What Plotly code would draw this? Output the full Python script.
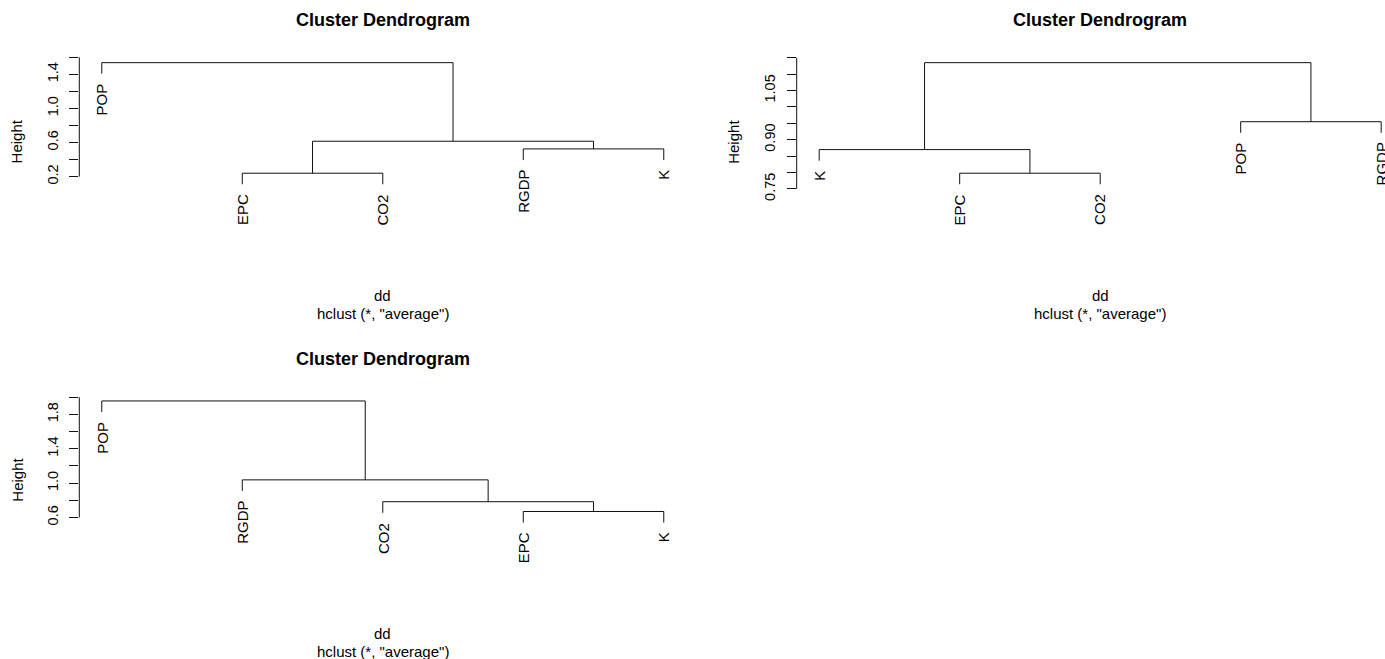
import plotly.graph_objects as go

W, H = 1385, 659

# ---- hclust results ("average" linkage), one entry per dendrogram ----
# merges: a member is either a leaf name or the index of an earlier merge
labels_a = ["POP", "EPC", "CO2", "RGDP", "K"]
merges_a = [("EPC", "CO2"), ("RGDP", "K"), (0, 1), ("POP", 2)]
heights_a = [0.240, 0.525, 0.615, 1.537]
yticks_a = [0.2, 0.4, 0.6, 0.8, 1.0, 1.2, 1.4, 1.6]
ytext_a = ["0.2", "", "0.6", "", "1.0", "", "1.4", ""]

labels_b = ["K", "EPC", "CO2", "POP", "RGDP"]
merges_b = [("EPC", "CO2"), ("K", 0), ("POP", "RGDP"), (1, 2)]
heights_b = [0.798, 0.870, 0.955, 1.135]
yticks_b = [0.75, 0.80, 0.85, 0.90, 0.95, 1.00, 1.05, 1.10, 1.15]
ytext_b = ["0.75", "", "", "0.90", "", "", "1.05", "", ""]

labels_c = ["POP", "RGDP", "CO2", "EPC", "K"]
merges_c = [("EPC", "K"), ("CO2", 0), ("RGDP", 1), ("POP", 2)]
heights_c = [0.670, 0.784, 1.038, 1.956]
yticks_c = [0.6, 0.8, 1.0, 1.2, 1.4, 1.6, 1.8, 2.0]
ytext_c = ["0.6", "", "1.0", "", "1.4", "", "1.8", ""]

title_text = "Cluster Dendrogram"
xlab_text = "dd"
sub_text = 'hclust (*, "average")'
ylab_text = "Height"

# ---- page layout (pixels) ----
FONT = "Liberation Sans, Arial, sans-serif"
TEXT_SIZE = 15
TICK_SIZE = 14.5
TITLE_SIZE = 18
LEAF_STEP = 140.5          # pixels between neighbouring leaves
X_PAD = 0.16               # R-style 4% axis extension on 1..n
COL_LEFT = [79.3, 796.7]
ROW_TOP = [50.5, 388.8]
SPAN_PX = 121.6            # pixels from top merge down to lowest leaf end
TOP_PAD, BOTTOM_PAD = 0.10, 0.40
HANG = 0.1

panels = [
    (labels_a, merges_a, heights_a, yticks_a, ytext_a, 0, 0),
    (labels_b, merges_b, heights_b, yticks_b, ytext_b, 1, 0),
    (labels_c, merges_c, heights_c, yticks_c, ytext_c, 0, 1),
]

fig = go.Figure()
annotations = []
shapes = []
layout = {}


def px_x(v):
    return v / W


def px_y(v):
    return 1 - v / H


for k, (labels, merges, heights, yticks, ytext, col, row) in enumerate(panels):
    sfx = "" if k == 0 else str(k + 1)
    xa, ya = "x" + sfx, "y" + sfx
    n = len(labels)

    hang = HANG * (max(heights) - min(heights))
    leaf_x = {name: i + 1 for i, name in enumerate(labels)}

    # node positions (x, y) of each merge
    node = []
    xs, ys = [], []
    leaf_end = {}
    for (m1, m2), h in zip(merges, heights):
        pts = []
        for m in (m1, m2):
            if isinstance(m, str):
                px_, py_ = leaf_x[m], h - hang
                leaf_end[m] = py_
            else:
                px_, py_ = node[m]
            pts.append((px_, py_))
        (x1, y1), (x2, y2) = pts
        xs += [x1, x1, x2, x2, None]
        ys += [y1, h, h, y2, None]
        node.append(((x1 + x2) / 2, h))

    fig.add_trace(go.Scatter(
        x=xs, y=ys, mode="lines", xaxis=xa, yaxis=ya,
        line=dict(color="#111111", width=1),
        hoverinfo="skip", showlegend=False, cliponaxis=False,
    ))

    # leaf labels hanging below each leaf
    for name in labels:
        annotations.append(dict(
            x=leaf_x[name], y=leaf_end[name], xref=xa, yref=ya,
            text=name, textangle=-90, showarrow=False,
            xanchor="center", yanchor="top", yshift=-8,
            font=dict(family=FONT, size=TEXT_SIZE, color="#000000"),
        ))

    # axes geometry
    full_w = (n - 1 + 2 * X_PAD) * LEAF_STEP
    x0px = COL_LEFT[col]
    x1px = min(x0px + full_w, W)
    xr = [1 - X_PAD, 1 - X_PAD + (x1px - x0px) / LEAF_STEP]

    low = min(heights) - hang
    span = max(heights) - low
    yr = [low - BOTTOM_PAD * span, max(heights) + TOP_PAD * span]
    top_px = ROW_TOP[row]
    bot_px = top_px + SPAN_PX * (1 + TOP_PAD + BOTTOM_PAD)

    layout["xaxis" + sfx] = dict(
        domain=[px_x(x0px), px_x(x1px)], range=xr, anchor=ya,
        showgrid=False, zeroline=False, showline=False,
        showticklabels=False, ticks="", fixedrange=True,
    )
    layout["yaxis" + sfx] = dict(
        domain=[px_y(bot_px), px_y(top_px)], range=yr, anchor=xa,
        showgrid=False, zeroline=False, showline=False,
        ticks="outside", ticklen=9, tickwidth=1, tickcolor="#111111",
        tickvals=yticks, ticktext=ytext, tickangle=-90,
        ticklabelstandoff=6,
        tickfont=dict(family=FONT, size=TICK_SIZE, color="#000000"),
        fixedrange=True,
    )

    # axis line spans first to last tick only
    shapes.append(dict(
        type="line", xref=xa + " domain", yref=ya,
        x0=0, x1=0, y0=min(yticks), y1=max(yticks),
        line=dict(color="#111111", width=1),
    ))

    cx = x0px + full_w / 2
    mid_y = (top_px + bot_px) / 2
    annotations += [
        dict(x=px_x(cx), y=px_y(top_px - 30), xref="paper", yref="paper",
             text="<b>%s</b>" % title_text, showarrow=False,
             xanchor="center", yanchor="middle",
             font=dict(family=FONT, size=TITLE_SIZE, color="#000000")),
        dict(x=px_x(x0px - 62.6), y=px_y(mid_y), xref="paper", yref="paper",
             text=ylab_text, textangle=-90, showarrow=False,
             xanchor="center", yanchor="middle",
             font=dict(family=FONT, size=TEXT_SIZE, color="#000000")),
        dict(x=px_x(cx), y=px_y(top_px + 245), xref="paper", yref="paper",
             text=xlab_text, showarrow=False,
             xanchor="center", yanchor="middle",
             font=dict(family=FONT, size=TEXT_SIZE, color="#000000")),
        dict(x=px_x(cx), y=px_y(top_px + 263), xref="paper", yref="paper",
             text=sub_text, showarrow=False,
             xanchor="center", yanchor="middle",
             font=dict(family=FONT, size=TEXT_SIZE, color="#000000")),
    ]

fig.update_layout(
    width=W, height=H, autosize=False,
    margin=dict(l=0, r=0, t=0, b=0),
    paper_bgcolor="#ffffff", plot_bgcolor="#ffffff",
    annotations=annotations, shapes=shapes,
    **layout,
)

fig.write_html("out.html", config={"displayModeBar": False})
